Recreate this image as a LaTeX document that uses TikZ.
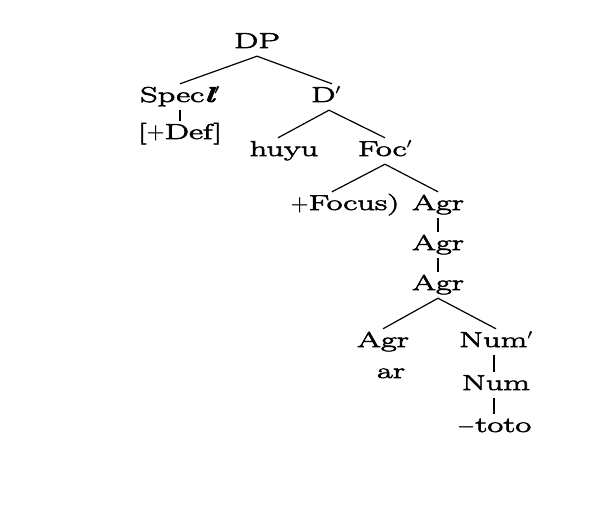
\documentclass[tikz,border=0pt]{standalone}
\usepackage{fontspec}
\setmainfont{Latin Modern Roman}[FakeStretch=1.6, FakeBold=3]
\begin{document}
\begin{tikzpicture}[
  lab/.style={font=\fontsize{21.5}{26}\selectfont\boldmath, anchor=base, inner xsep=0pt,
    inner ysep=4pt, text height=14pt, text depth=4pt},
  branch/.style={line width=1.2pt, black}
]
\useasboundingbox (0,0) rectangle (594pt,-516pt);
\fill[white] (0,0) rectangle (594pt,-516pt);
\node[lab] (dp)   at (257pt,-48pt)  {DP};
\node[lab] (spec) at (180pt,-102pt) {Spec{\bfseries\itshape l}$'$};
\node[lab] (dbar) at (326pt,-102pt) {D$'$};
\node[lab] (def)  at (180pt,-139pt) {[$+$Def]};
\node[lab] (huyu) at (284pt,-156pt) {huyu};
\node[lab] (foc)  at (385pt,-156pt) {Foc$'$};
\node[lab] (focus) at (345pt,-210pt) {$+$Focus)};
\node[lab] (agra) at (438pt,-210pt) {Agr};
\node[lab] (agrb) at (438pt,-250pt) {Agr};
\node[lab] (agrc) at (438pt,-290pt) {Agr};
\node[lab] (agrl) at (383pt,-347pt) {Agr};
\node[lab] (ar)   at (391pt,-378pt) {ar};
\node[lab] (numbar) at (496pt,-347pt) {Num$'$};
\node[lab] (num)  at (496pt,-390pt) {Num};
\node[lab] (toto) at (494pt,-432pt) {$-$toto};
\draw[branch] (dp.south) -- (spec.north);
\draw[branch] (dp.south) -- ([xshift=6pt]dbar.north);
\draw[branch] (spec.south) -- (def.north);
\draw[branch] ([xshift=3pt]dbar.south) -- ([xshift=-6pt]huyu.north);
\draw[branch] ([xshift=3pt]dbar.south) -- (foc.north);
\draw[branch] (foc.south) -- ([xshift=-13pt]focus.north);
\draw[branch] (foc.south) -- (agra.north);
\draw[branch] (agra.south) -- (agrb.north);
\draw[branch] (agrb.south) -- (agrc.north);
\draw[branch] (agrc.south) -- (agrl.north);
\draw[branch] (agrc.south) -- (numbar.north);
\draw[branch] ([xshift=-2pt]numbar.south) -- ([xshift=-2pt]num.north);
\draw[branch] ([xshift=-2pt]num.south) -- ([xshift=-2pt]num.south |- toto.north);
\end{tikzpicture}
\end{document}
